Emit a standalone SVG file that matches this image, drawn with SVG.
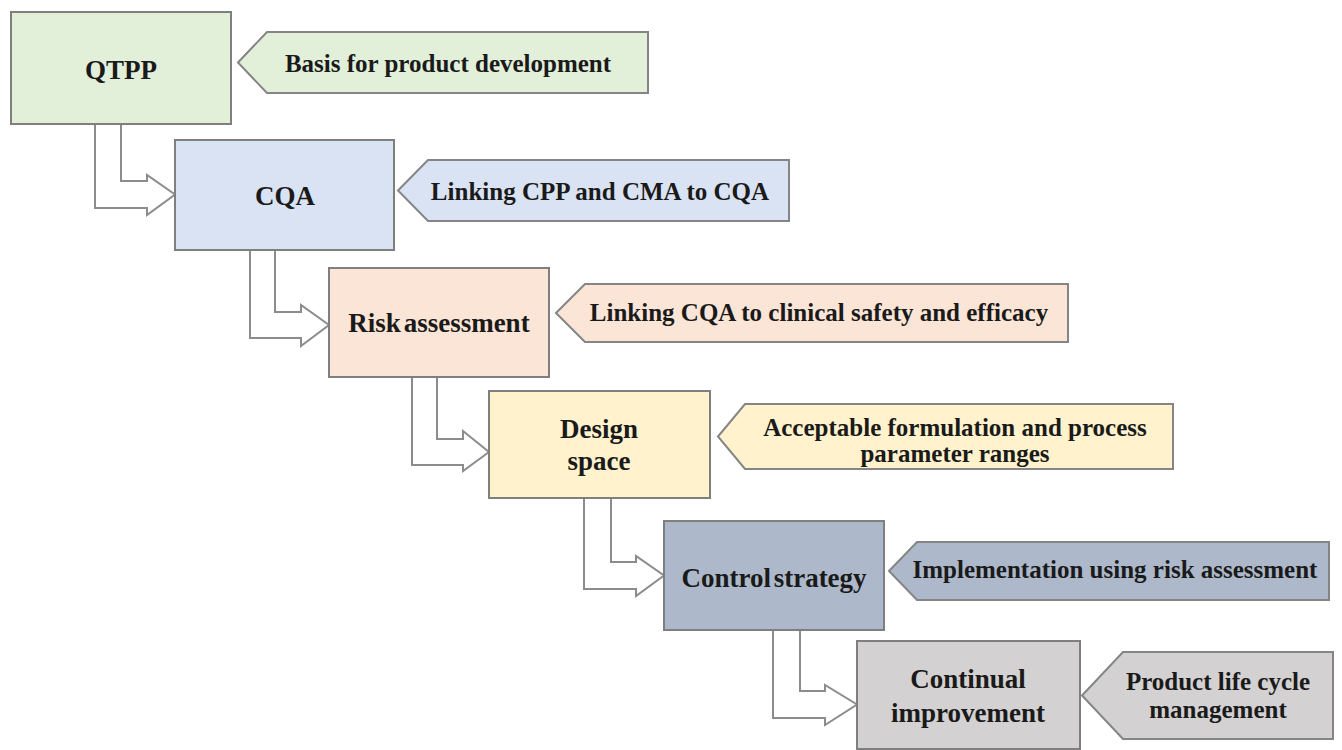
<svg xmlns="http://www.w3.org/2000/svg" width="1342" height="750" viewBox="0 0 1342 750">
<style>
.box{stroke:#7f7f7f;stroke-width:2}
.call{stroke:#858585;stroke-width:2}
.conn{fill:#ffffff;stroke:#8c8c8c;stroke-width:2;stroke-linejoin:miter}
.bt{font-family:"Liberation Serif","Times New Roman",serif;font-weight:bold;font-size:27px;fill:#1a1a1a;text-anchor:middle}
.ct{font-family:"Liberation Serif","Times New Roman",serif;font-weight:bold;font-size:25px;fill:#1a1a1a;text-anchor:middle}
.tight{word-spacing:-4px}
.g1{fill:#e2efd9}
.g2{fill:#dae3f3}
.g3{fill:#fbe5d6}
.g4{fill:#fff2cc}
.g5{fill:#adb9ca}
.g6{fill:#d3d1d1}
</style>
<rect width="1342" height="750" fill="#ffffff"/>
<g id="connectors">
<path class="conn" d="M95,124 H121 V181 H147 V175 L175,194.5 L147,215 V208 H95 Z"/>
<path class="conn" d="M250,250 H275 V312 H301 V305 L329,325 L301,346 V338 H250 Z"/>
<path class="conn" d="M412,377 H437 V439 H463 V431 L489,452 L463,471 V465 H412 Z"/>
<path class="conn" d="M584,498 H611 V562 H636 V556 L664,575.5 L636,596 V589 H584 Z"/>
<path class="conn" d="M773,630 H800 V691 H825 V685 L857,704.5 L825,725 V718 H773 Z"/>
</g>
<g id="qtpp">
<rect class="box g1" x="11" y="12" width="220" height="112"/>
<text class="bt" x="121" y="79">QTPP</text>
</g>
<g id="qtpp-note">
<path class="call g1" d="M238,62.5 L267,32 H648 V93 H267 Z"/>
<text class="ct" x="448" y="72">Basis for product development</text>
</g>
<g id="cqa">
<rect class="box g2" x="175" y="140" width="219" height="110"/>
<text class="bt" x="285" y="205">CQA</text>
</g>
<g id="cqa-note">
<path class="call g2" d="M398,190.5 L428,160 H789 V221 H428 Z"/>
<text class="ct" x="600" y="200">Linking CPP and CMA to CQA</text>
</g>
<g id="risk">
<rect class="box g3" x="329" y="268" width="220" height="109"/>
<text class="bt tight" x="439" y="332">Risk assessment</text>
</g>
<g id="risk-note">
<path class="call g3" d="M556,313 L585,284 H1068 V342 H585 Z"/>
<text class="ct" x="819" y="321">Linking CQA to clinical safety and efficacy</text>
</g>
<g id="design">
<rect class="box g4" x="489" y="391" width="221" height="107"/>
<text class="bt" x="599" y="438">Design</text>
<text class="bt" x="599" y="470">space</text>
</g>
<g id="design-note">
<path class="call g4" d="M718,436.5 L745,404 H1173 V469 H745 Z"/>
<text class="ct" x="955" y="436">Acceptable formulation and process</text>
<text class="ct" x="955" y="462">parameter ranges</text>
</g>
<g id="control">
<rect class="box g5" x="664" y="521" width="220" height="109"/>
<text class="bt tight" x="774" y="587">Control strategy</text>
</g>
<g id="control-note">
<path class="call g5" d="M889,571 L917,542 H1329 V600 H917 Z"/>
<text class="ct" x="1115" y="578">Implementation using risk assessment</text>
</g>
<g id="continual">
<rect class="box g6" x="857" y="641" width="223" height="108"/>
<text class="bt" x="968" y="688">Continual</text>
<text class="bt" x="968" y="722">improvement</text>
</g>
<g id="continual-note">
<path class="call g6" d="M1082,695.5 L1123,652 H1333 V739 H1123 Z"/>
<text class="ct" x="1218" y="690">Product life cycle</text>
<text class="ct" x="1218" y="718">management</text>
</g>
</svg>
